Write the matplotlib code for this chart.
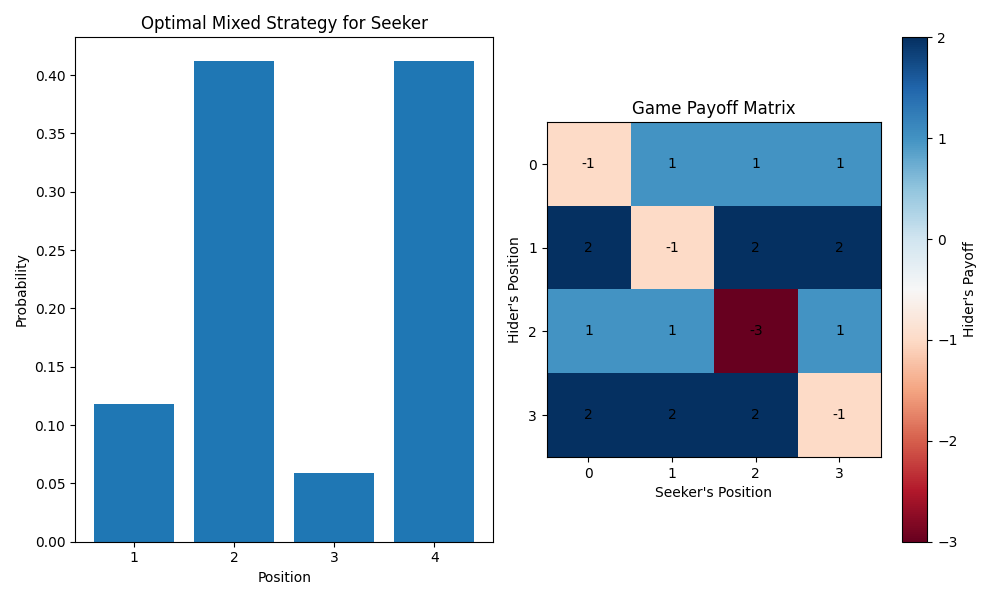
import numpy as np
import matplotlib
matplotlib.use('Agg')
import matplotlib.pyplot as plt

# seeker strategy
positions = [1, 2, 3, 4]
probs = [2/17, 7/17, 1/17, 7/17]

# payoff matrix (rows: hider, cols: seeker)
payoff = np.array([
    [-1, 1, 1, 1],
    [2, -1, 2, 2],
    [1, 1, -3, 1],
    [2, 2, 2, -1],
])

fig, (ax1, ax2) = plt.subplots(1, 2, figsize=(10, 6))

ax1.bar(positions, probs)
ax1.set_xticks(positions)
ax1.set_xlabel('Position')
ax1.set_ylabel('Probability')
ax1.set_title('Optimal Mixed Strategy for Seeker')

im = ax2.imshow(payoff, cmap='RdBu', vmin=payoff.min(), vmax=payoff.max())
for i in range(payoff.shape[0]):
    for j in range(payoff.shape[1]):
        ax2.text(j, i, str(payoff[i, j]), ha='center', va='center', color='black')
ax2.set_xticks(range(4))
ax2.set_yticks(range(4))
ax2.set_xlabel("Seeker's Position")
ax2.set_ylabel("Hider's Position")
ax2.set_title('Game Payoff Matrix')
cbar = fig.colorbar(im, ax=ax2)
cbar.set_label("Hider's Payoff")

plt.tight_layout()
plt.savefig('out.png')
